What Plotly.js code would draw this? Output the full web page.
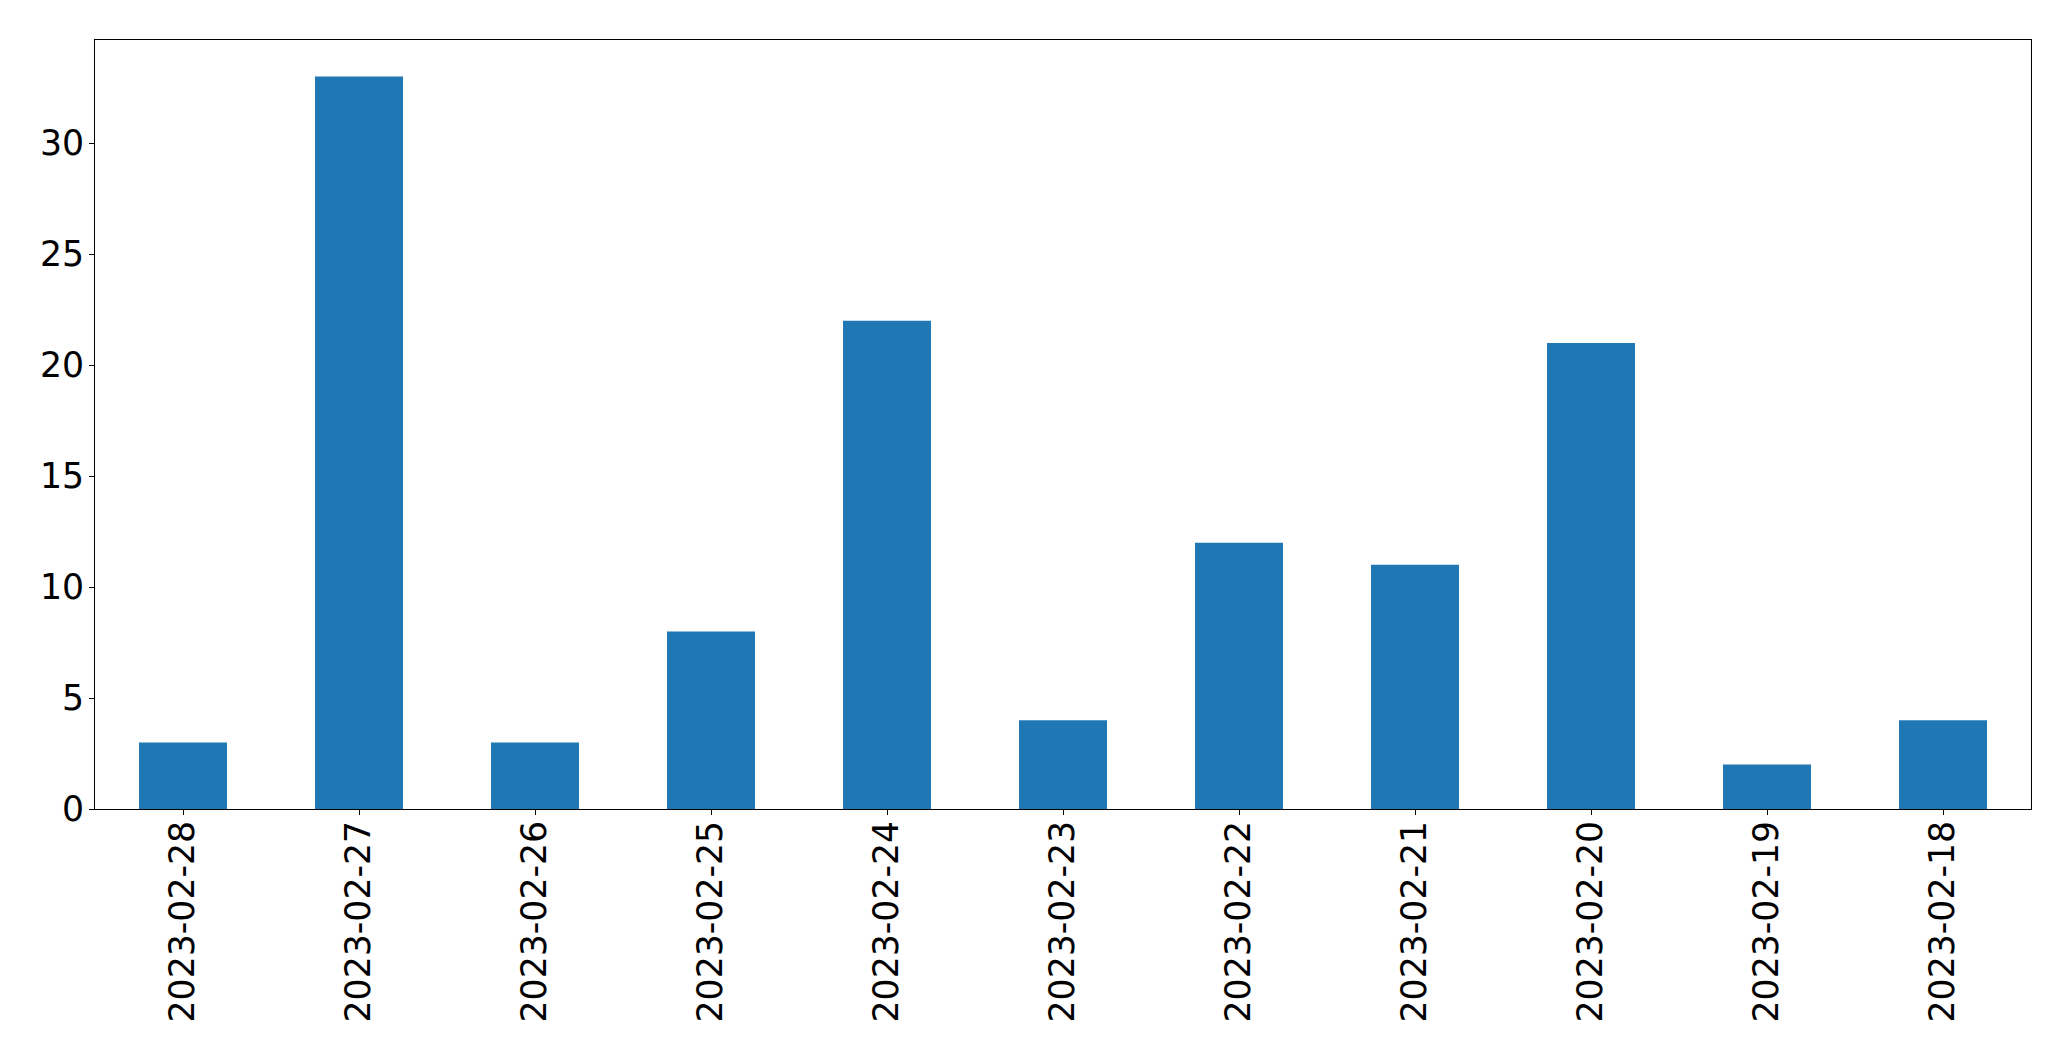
<!DOCTYPE html>
<html>
<head>
<meta charset="utf-8">
<script src="https://cdn.plot.ly/plotly-3.0.1.min.js"></script>
<style>
  html, body { margin: 0; padding: 0; background: #fff; }
  #chart { width: 2071px; height: 1061px; }
</style>
</head>
<body>
<div id="chart"></div>
<script>
const dates = ["2023-02-28", "2023-02-27", "2023-02-26", "2023-02-25", "2023-02-24", "2023-02-23", "2023-02-22", "2023-02-21", "2023-02-20", "2023-02-19", "2023-02-18"];
const counts = [3, 33, 3, 8, 22, 4, 12, 11, 21, 2, 4];
const yTicks = [0, 5, 10, 15, 20, 25, 30];

const trace = {
  type: "bar",
  x: dates,
  y: counts,
  marker: { color: "#1f77b4", line: { width: 0 } },
  hoverinfo: "x+y"
};

const axisFont = { family: "DejaVu Sans, sans-serif", size: 34.7, color: "#000" };

const layout = {
  width: 2071,
  height: 1061,
  margin: { l: 95, r: 40, t: 40, b: 252, pad: 0 },
  paper_bgcolor: "#fff",
  plot_bgcolor: "#fff",
  showlegend: false,
  bargap: 0.5,
  xaxis: {
    type: "category",
    range: [-0.5, dates.length - 0.5],
    tickangle: -90,
    ticks: "outside",
    ticklen: 5,
    tickwidth: 1,
    tickcolor: "#000",
    tickfont: axisFont,
    ticklabelstandoff: -8,
    showline: true,
    linecolor: "#000",
    linewidth: 1,
    mirror: true,
    showgrid: false,
    zeroline: false
  },
  yaxis: {
    range: [0, Math.max(...counts) * 1.05],
    tickmode: "array",
    tickvals: yTicks,
    ticktext: yTicks.map(String),
    ticks: "outside",
    ticklen: 5,
    tickwidth: 1,
    tickcolor: "#000",
    tickfont: axisFont,
    ticklabelstandoff: -2,
    showline: true,
    linecolor: "#000",
    linewidth: 1,
    mirror: true,
    showgrid: false,
    zeroline: false
  }
};

Plotly.newPlot("chart", [trace], layout, { displayModeBar: false, staticPlot: true });
</script>
</body>
</html>
